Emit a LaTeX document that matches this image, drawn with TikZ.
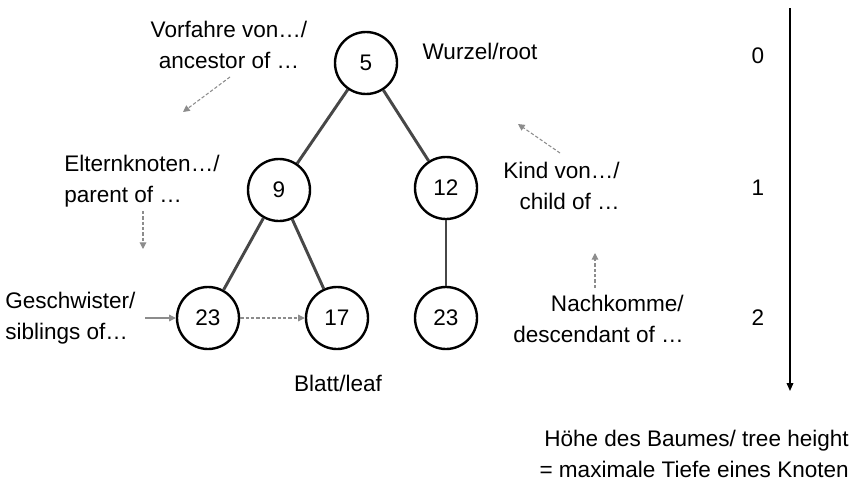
\documentclass[tikz,border=0pt]{standalone}
\usepackage{fontspec}
\setmainfont{Liberation Sans}
\usetikzlibrary{arrows.meta}
\begin{document}
\begin{tikzpicture}[x=0.75pt,y=-0.75pt,
  every node/.style={font=\fontsize{16.9}{23.5}\selectfont, inner sep=0pt},
  treenode/.style={circle, draw=black, line width=1.8pt, minimum size=46.5pt, fill=white},
  edge/.style={draw=black!72, line width=2.2pt},
  hint/.style={draw=black!45, line width=0.8pt, dashed, dash pattern=on 2.5pt off 1.5pt, -{Triangle[length=5pt,width=5pt]}},
  hintsolid/.style={draw=black!45, line width=0.8pt, -{Triangle[length=5pt,width=5pt]}},
  lbl/.style={align=left}]
\useasboundingbox (0,0) rectangle (851,482);
% tree
\node[treenode] (n5) at (366,63) {5};
\node[treenode] (n9) at (279,190) {9};
\node[treenode] (n12) at (446,188) {12};
\node[treenode] (n23a) at (208,318) {23};
\node[treenode] (n17) at (337,318) {17};
\node[treenode] (n23b) at (446,318) {23};
\draw[edge] (n5) -- (n9);
\draw[edge] (n5) -- (n12);
\draw[edge] (n9) -- (n23a);
\draw[edge] (n9) -- (n17);
\draw[edge] (n12) -- (n23b);
% labels
\node[align=center] (anc) at (229,45) {Vorfahre von…/\\ancestor of …};
\node (root) at (480,51) {Wurzel/root};
\node[align=left, anchor=west] (par) at (64,181) {Elternknoten…/\\parent of …};
\node[align=left, anchor=west] (sib) at (5,318) {Geschwister/\\siblings of…};
\node[align=right, anchor=east] (child) at (620,186) {Kind von…/\\child of …};
\node[align=right, anchor=east] (desc) at (684,319) {Nachkomme/\\descendant of …};
\node (leaf) at (338,383) {Blatt/leaf};
\node[align=right, anchor=east] (height) at (849,454) {Höhe des Baumes/ tree height\\= maximale Tiefe eines Knoten};
% depth
\node (d0) at (758,56) {0};
\node (d1) at (758,188) {1};
\node (d2) at (758,318) {2};
\coordinate (axTop) at (790,8);
\coordinate (axBot) at (790,391);
\draw[line width=1.1pt, -{Triangle[length=6pt,width=5pt]}] (axTop) -- (axBot);
% hint arrows
\coordinate (a1s) at (230,77); \coordinate (a1e) at (183,112);
\draw[hint] (a1s) -- (a1e);
\coordinate (a2s) at (143,211); \coordinate (a2e) at (143,249);
\draw[hint] (a2s) -- (a2e);
\coordinate (a3s) at (145,318);
\draw[hintsolid] (a3s) -- (n23a);
\draw[hint] (n23a) -- (n17);
\coordinate (a4s) at (560,153); \coordinate (a4e) at (518,124);
\draw[hint] (a4s) -- (a4e);
\coordinate (a5s) at (595,288); \coordinate (a5e) at (595,253);
\draw[hint] (a5s) -- (a5e);
\end{tikzpicture}
\end{document}
